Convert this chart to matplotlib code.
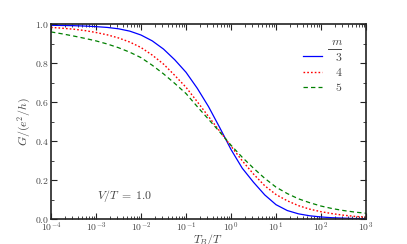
import numpy as np
import matplotlib
matplotlib.use("Agg")
import matplotlib.pyplot as plt
from matplotlib.ticker import FuncFormatter, LogLocator, MultipleLocator
from matplotlib.lines import Line2D

plt.rcParams['mathtext.fontset'] = 'cm'
plt.rcParams['font.family'] = ['DejaVu Serif']

# log10(T_B/T) sample positions
log_tb = [-4.0, -3.75, -3.5, -3.25, -3.0, -2.75, -2.5, -2.25, -2.0, -1.75, -1.5, -1.25,
          -1.0, -0.75, -0.5, -0.25, 0.0, 0.25, 0.5, 0.75, 1.0, 1.25, 1.5, 1.75, 2.0,
          2.25, 2.5, 2.75, 3.0]

g_m3 = [0.995, 0.994, 0.993, 0.991, 0.988, 0.984, 0.977, 0.965, 0.945, 0.915, 0.873, 0.818,
        0.754, 0.672, 0.578, 0.47, 0.358, 0.262, 0.19, 0.125, 0.075, 0.045, 0.028, 0.018, 0.012,
        0.008, 0.006, 0.004, 0.003]
g_m4 = [0.984, 0.98, 0.975, 0.968, 0.958, 0.946, 0.93, 0.909, 0.881, 0.842, 0.796, 0.738,
        0.677, 0.603, 0.527, 0.452, 0.375, 0.30, 0.232, 0.172, 0.127, 0.095, 0.07, 0.052, 0.039,
        0.029, 0.021, 0.015, 0.011]
g_m5 = [0.961, 0.951, 0.94, 0.928, 0.915, 0.899, 0.88, 0.857, 0.829, 0.79, 0.746, 0.697,
        0.645, 0.578, 0.513, 0.448, 0.38, 0.318, 0.262, 0.21, 0.165, 0.132, 0.105, 0.085, 0.068,
        0.055, 0.045, 0.037, 0.031]

m_labels = ['3', '4', '5']
colors = ['#0000ff', '#ff0000', '#008000']
styles = ['-', ':', '--']

x = [10 ** v for v in log_tb]

fig = plt.figure(figsize=(4.07, 2.44), dpi=100)
ax = fig.add_axes([0.1253, 0.1012, 0.7740, 0.7992])

txtc = '#444444'
lines = []
for y, c, ls, lab in zip([g_m3, g_m4, g_m5], colors, styles, m_labels):
    if ls == '--':
        ln, = ax.plot(x, y, color=c, lw=0.9, linestyle=(0, (3.5, 2.5)), label='$%s$' % lab)
    elif ls == ':':
        ln, = ax.plot(x, y, color=c, lw=1.0, linestyle=(0, (1.2, 1.5)), label='$%s$' % lab)
    else:
        ln, = ax.plot(x, y, color=c, lw=0.9, linestyle='-', label='$%s$' % lab)
    lines.append(ln)

ax.set_xscale('log')
ax.set_xlim(1e-4, 1e3)
ax.set_ylim(0.0, 1.0)

ax.xaxis.set_major_locator(LogLocator(base=10, numticks=20))
ax.xaxis.set_minor_locator(LogLocator(base=10, subs=np.arange(2, 10), numticks=100))
ax.xaxis.set_major_formatter(FuncFormatter(lambda v, p: r'$10^{%d}$' % int(round(np.log10(v)))))
ax.yaxis.set_major_locator(MultipleLocator(0.2))
ax.yaxis.set_minor_locator(MultipleLocator(0.1))
ax.yaxis.set_major_formatter(FuncFormatter(lambda v, p: r'$%.1f$' % v))

ax.tick_params(which='both', direction='in', top=True, right=True, labelsize=7,
               color='#222222', labelcolor=txtc)
ax.tick_params(which='major', length=4, width=0.8, pad=1.2)
ax.tick_params(which='minor', length=2, width=0.6)
for s in ax.spines.values():
    s.set_linewidth(1.2)
    s.set_color('#222222')

ax.set_xlabel(r'$T_B/T$', fontsize=8.5, labelpad=-1.5, color=txtc)
ax.set_ylabel(r'$G/(e^2/h)$', fontsize=8.5, labelpad=1.5, color=txtc)

ax.text(0.145, 0.12, r'$V/T\;=\;1.0$', transform=ax.transAxes, fontsize=8.5,
        ha='left', va='center', color=txtc)

leg = ax.legend(handles=lines, loc='upper left', bbox_to_anchor=(0.80, 0.943),
                frameon=False, fontsize=8.5, handlelength=1.6, handletextpad=1.1,
                labelspacing=0.18, borderpad=0.0, borderaxespad=0.0,
                title=r'$m$', title_fontsize=8.5, alignment='right')
for t in leg.get_texts():
    t.set_color(txtc)
leg.get_title().set_color(txtc)

# underline under the legend title
fig.add_artist(Line2D([328.3 / 407, 340.5 / 407], [1 - 48.5 / 244, 1 - 48.5 / 244],
                      color=txtc, lw=0.7))

fig.savefig('out.png', dpi=100)
